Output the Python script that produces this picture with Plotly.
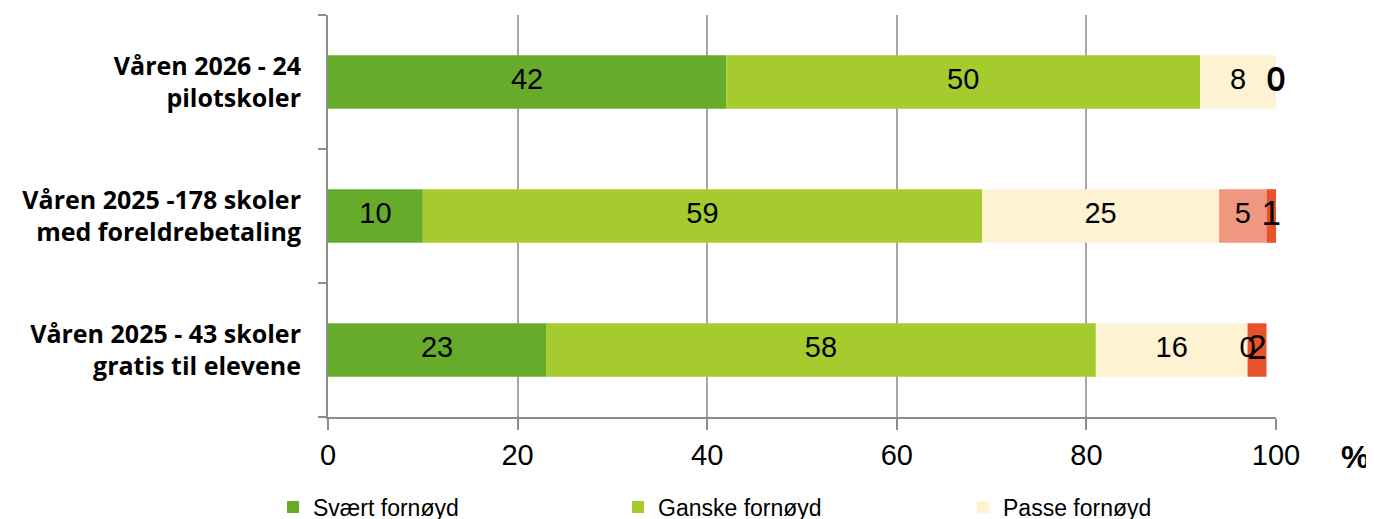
import plotly.graph_objects as go

categories = [
    "Våren 2026 - 24<br>pilotskoler",
    "Våren 2025 -178 skoler<br>med foreldrebetaling",
    "Våren 2025 - 43 skoler<br>gratis til elevene",
]
series_names = ["Svært fornøyd", "Ganske fornøyd", "Passe fornøyd", "Lite fornøyd", "Ikke fornøyd"]
svaert = [42, 10, 23]
ganske = [50, 59, 58]
passe = [8, 25, 16]
lite = [0, 5, 0]
ikke = [0, 1, 2]
x_ticks = [0, 20, 40, 60, 80, 100]

values = [svaert, ganske, passe, lite, ikke]
colors = ["#66AC2A", "#A6CB2E", "#FDF2D2", "#F0977F", "#E8522B"]
label_sizes = [29, 29, 29, 29, 35]
in_legend = [True, True, True, False, False]

fig = go.Figure()

base = [0] * len(categories)
label_traces = []
for name, vals, col, size, leg in zip(series_names, values, colors, label_sizes, in_legend):
    fig.add_trace(go.Bar(
        y=categories, x=vals, base=base, name=name, orientation="h",
        marker=dict(color=col, line=dict(width=0)),
        showlegend=leg,
    ))
    # labels centred on each segment
    centers = [b + v / 2 for b, v in zip(base, vals)]
    label_traces.append(go.Scatter(
        y=categories, x=centers, mode="text", text=[str(v) for v in vals],
        textfont=dict(family="Liberation Sans, Arial", size=size, color="black"),
        showlegend=False, hoverinfo="skip", cliponaxis=False,
    ))
    base = [b + v for b, v in zip(base, vals)]

for t in label_traces:
    fig.add_trace(t)

# the page body adds an 8px offset, so the figure is 8px smaller on each leading edge
fig.update_layout(
    barmode="overlay",
    bargap=0.6,
    width=1366,
    height=511,
    margin=dict(l=320, r=98, t=7, b=102, autoexpand=False),
    plot_bgcolor="white",
    paper_bgcolor="white",
    font=dict(family="Liberation Sans, Arial", color="black"),
    legend=dict(
        orientation="h", x=-0.058, xanchor="left", y=-0.224, yanchor="middle",
        entrywidth=300, entrywidthmode="pixels",
        font=dict(size=23, family="Liberation Sans, Arial"),
        itemwidth=30, tracegroupgap=0,
    ),
    annotations=[dict(
        text="%", xref="paper", yref="paper", x=1.083, y=-0.1, xanchor="center",
        yanchor="middle", showarrow=False,
        font=dict(size=32, family="Liberation Sans, Arial", color="black", weight="bold"),
    )],
)

fig.update_xaxes(
    range=[0, 100], tickvals=x_ticks, ticktext=[str(v) for v in x_ticks],
    showgrid=True, gridcolor="#A6A6A6", gridwidth=2,
    showline=True, linecolor="#8C8C8C", linewidth=2,
    ticks="outside", ticklen=11, tickcolor="#8C8C8C", tickwidth=2,
    tickfont=dict(size=29, family="Liberation Sans, Arial"),
    zeroline=False, fixedrange=True, automargin=False,
)
fig.update_yaxes(
    categoryorder="array", categoryarray=categories[::-1],
    showline=True, linecolor="#8C8C8C", linewidth=2,
    ticks="outside", tickson="boundaries", ticklen=8, tickcolor="#8C8C8C", tickwidth=2,
    tickfont=dict(size=25, family="Open Sans", weight="bold"),
    ticklabelstandoff=20,
    showgrid=False, zeroline=False, fixedrange=True, automargin=False,
)

fig.write_html("out.html")
